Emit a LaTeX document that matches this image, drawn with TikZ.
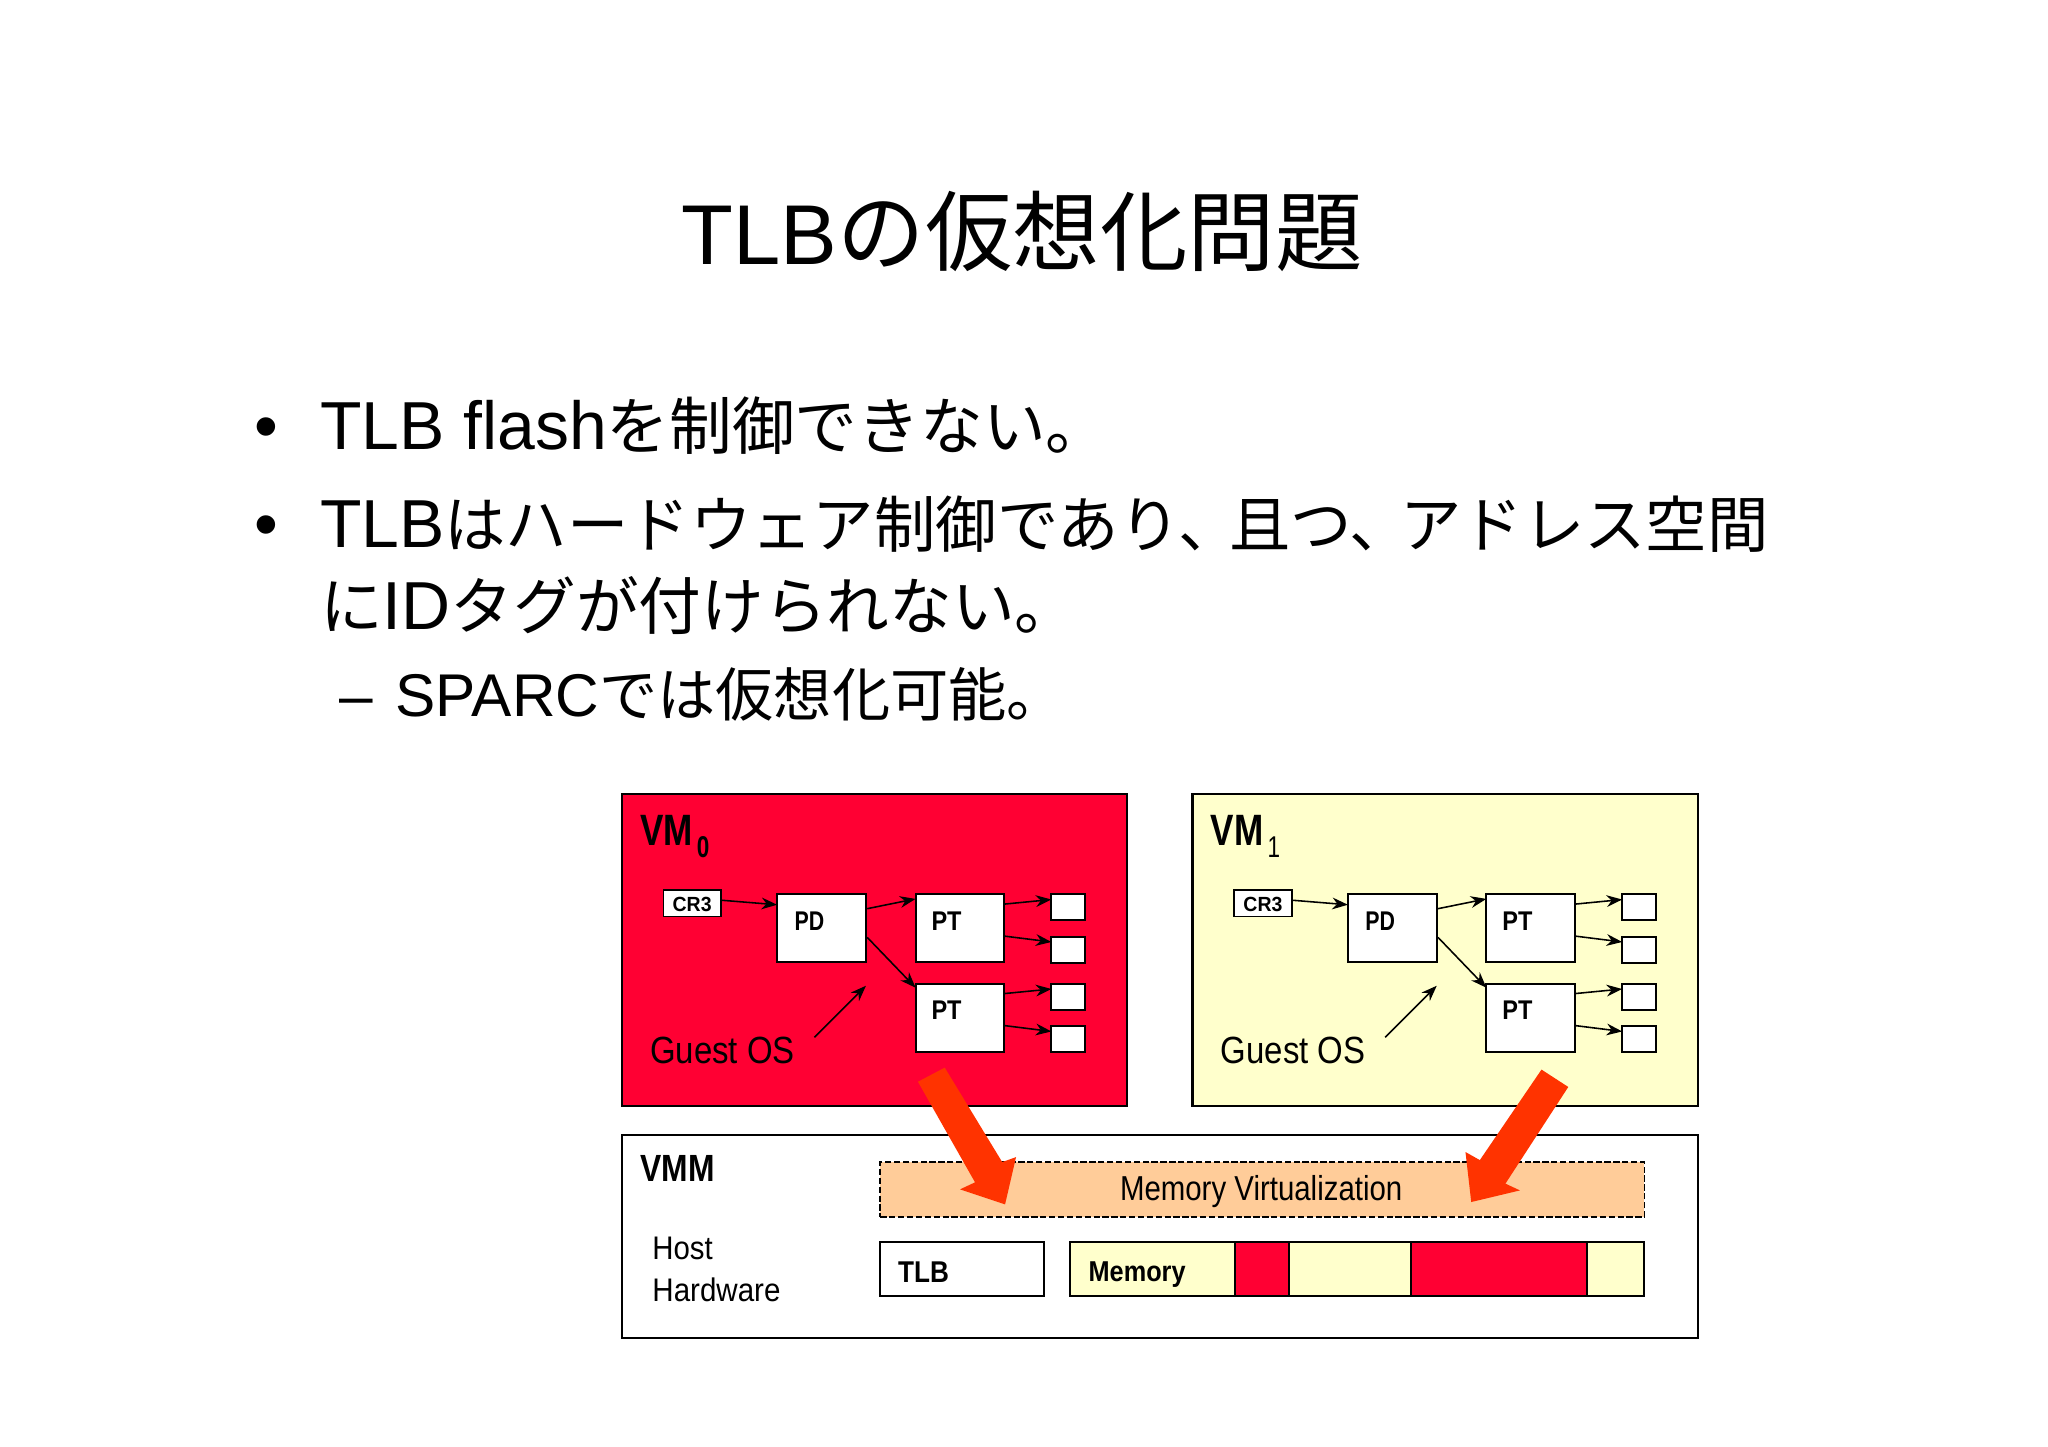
\documentclass[tikz,border=0pt]{standalone}
\usepackage{graphicx}
\usepackage{fontspec}
\setmainfont{Liberation Sans}
\newfontfamily\cjk{Noto Sans CJK JP}
\usetikzlibrary{arrows.meta,fit,calc}
\definecolor{vmred}{HTML}{FF0033}
\definecolor{vmyel}{HTML}{FFFFCC}
\definecolor{arrred}{HTML}{FF3300}
\definecolor{virt}{HTML}{FFCC99}
\newcommand{\lab}[3]{\scalebox{#1}[1]{\fontsize{#2pt}{#2pt}\selectfont #3}}
\newcommand{\TL}{\fontsize{32.5pt}{32.5pt}\selectfont}
\newcommand{\TJ}{\fontsize{33.5pt}{33.5pt}\selectfont\cjk}
\newcommand{\BL}{\fontsize{26pt}{26pt}\selectfont}
\newcommand{\BJ}{\fontsize{23.5pt}{23.5pt}\selectfont\cjk}
\newcommand{\BK}{\fontsize{24pt}{24pt}\selectfont\cjk}
\newcommand{\SL}{\fontsize{23.1pt}{23.1pt}\selectfont}
\newcommand{\SJ}{\fontsize{22.3pt}{22.3pt}\selectfont\cjk}
\newcommand{\nk}{\hspace*{-4pt}}
\tikzset{
  x=0.5pt,y=-0.5pt,
  txt/.style={inner sep=0pt,outer sep=0pt,anchor=base west,text=black},
  boxw/.style={draw=black,fill=white,line width=0.75pt,inner sep=0pt,outer sep=0pt},
  frame/.style={draw=black,line width=0.8pt,inner sep=0pt,outer sep=0pt},
  conn/.style={draw=black,line width=0.6pt,-{Stealth[length=6pt,width=4.5pt]},shorten >=0pt},
  bigarrow/.style={fill=arrred,draw=none},
}
\newcommand{\vmcontent}[2]{%
  \node[boxw,fit={(508,681)(552,701)}] (cr#1) {};
  \node[boxw,fit={(595,684)(663,736)}] (pd#1) {};
  \node[boxw,fit={(701,684)(769,736)}] (pta#1) {};
  \node[boxw,fit={(701,752.5)(769,804.5)}] (ptb#1) {};
  \node[boxw,fit={(805,684)(830.5,704)}] (sa#1) {};
  \node[boxw,fit={(805,716.5)(830.5,736.5)}] (sb#1) {};
  \node[boxw,fit={(805,752.5)(830.5,772.5)}] (sc#1) {};
  \node[boxw,fit={(805,785)(830.5,804.5)}] (sd#1) {};
  \node[txt] (vml#1) at (490,646.5) {\lab{0.8}{16.8}{\bfseries VM}};
  \node[txt] (vms#1) at (533.5,656) {\lab{0.75}{11.5}{#2}};
  \node[txt] (crl#1) at (515,697) {\lab{0.95}{7.85}{\bfseries CR3}};
  \node[txt] (pdl#1) at (608.4,711.5) {\lab{0.79}{10.35}{\bfseries PD}};
  \node[txt] (ptal#1) at (713.2,711.5) {\lab{0.87}{10.35}{\bfseries PT}};
  \node[txt] (ptbl#1) at (713.2,780) {\lab{0.87}{10.35}{\bfseries PT}};
  \node[txt] (go#1) at (497.7,813.5) {\lab{0.87}{14.5}{Guest OS}};
  \coordinate (gt#1) at (663,754);
  \draw[conn] (cr#1.east) ++(0,-2.5) -- ($(pd#1.north west)+(0,8)$);
  \draw[conn] ($(pd#1.north east)+(1,11)$) -- ($(pta#1.north west)+(0,3.5)$);
  \draw[conn] ($(pd#1.north east)+(1,33)$) -- ($(ptb#1.north west)+(0,3)$);
  \draw[conn] ($(pta#1.north east)+(0,7.5)$) -- ($(sa#1.north west)+(0,4)$);
  \draw[conn] ($(pta#1.north east)+(0,32)$) -- ($(sb#1.north west)+(0,4)$);
  \draw[conn] ($(ptb#1.north east)+(0,7.5)$) -- ($(sc#1.north west)+(0,4)$);
  \draw[conn] ($(ptb#1.north east)+(0,32)$) -- ($(sd#1.north west)+(0,4)$);
  \draw[conn] ($(go#1.base east)+(15,-20)$) -- (gt#1);
}
\begin{document}
\begin{tikzpicture}
\useasboundingbox (0,-0.7) rectangle (1568,1107.1);
% Title and bullets
\node[txt] (title) at (522,201.5) {{\TL TLB}{\TJ の仮想化問題}};
\node[inner sep=0pt,anchor=base,font=\BL] (b1) at (204,343.5) {•};
\node[txt] (t1) at (245,343.5) {{\BL TLB flash}{\BK を制御できない。}};
\node[inner sep=0pt,anchor=base,font=\BL] (b2) at (204,418.5) {•};
\node[txt] (t2) at (245,418.5) {{\BL TLB}{\BJ はハードウェア制御であり、\nk 且つ、\nk アドレス空間}};
\node[txt] (t3) at (245,481.5) {{\BK に}{\BL ID}{\BK タグが付けられない。}};
\node[txt] (t4) at (260,547.5) {\makebox[21.5pt][l]{\SL –}{\SL SPARC}{\SJ では仮想化可能。}};
% VM0
\node[frame,fill=vmred,fit={(476,607)(863,846)}] (vm0) {};
\vmcontent{0}{\bfseries 0}
% VM1
\node[frame,fill=vmyel,fit={(913,607)(1300,846)}] (vm1) {};
\begin{scope}[shift={(437,0)}]
\vmcontent{1}{1}
\end{scope}
% VMM
\node[frame,fill=white,fit={(476,868)(1300,1024)}] (vmm) {};
\node[txt] (vmml) at (490.5,903.5) {\lab{0.84}{14.5}{\bfseries VMM}};
\node[draw=black,fill=virt,line width=0.7pt,dash pattern=on 2.4pt off 1pt,inner sep=0pt,fit={(674,889)(1259,931)}] (mv) {};
\node[txt] (mvl) at (857.5,918.5) {\lab{0.85}{13.25}{Memory Virtualization}};
\node[txt] (host) at (499.5,963.5) {\lab{0.9}{12.5}{Host}};
\node[txt] (hw) at (499.5,995.5) {\lab{0.905}{12.5}{Hardware}};
\node[boxw,fit={(674,950.5)(799.5,991.5)}] (tlb) {};
\node[txt] (tlbl) at (687.7,981) {\lab{0.87}{11.5}{\bfseries TLB}};
\node[boxw,fill=vmyel,fit={(819.5,950.5)(1258.5,991.5)}] (mem) {};
\node[boxw,fill=vmred,fit={(945.5,950.5)(986.7,991.5)}] (r1) {};
\node[boxw,fill=vmred,fit={(1080.2,950.5)(1215,991.5)}] (r2) {};
\node[txt] (meml) at (833.5,980.5) {\lab{0.88}{11}{\bfseries Memory}};
% Big arrows
\fill[bigarrow] (702.8,827.5) -- (723.3,816.7) -- (767.3,889) -- (777.9,885.2) -- (769.5,921.4) -- (735,909.9) -- (746.5,904.5) -- cycle;
\fill[bigarrow] (1180.2,818.2) -- (1200.7,831.5) -- (1152.6,905.5) -- (1163.7,910.7) -- (1126.4,919.6) -- (1122,881.3) -- (1133,887.5) -- cycle;
\end{tikzpicture}
\end{document}
